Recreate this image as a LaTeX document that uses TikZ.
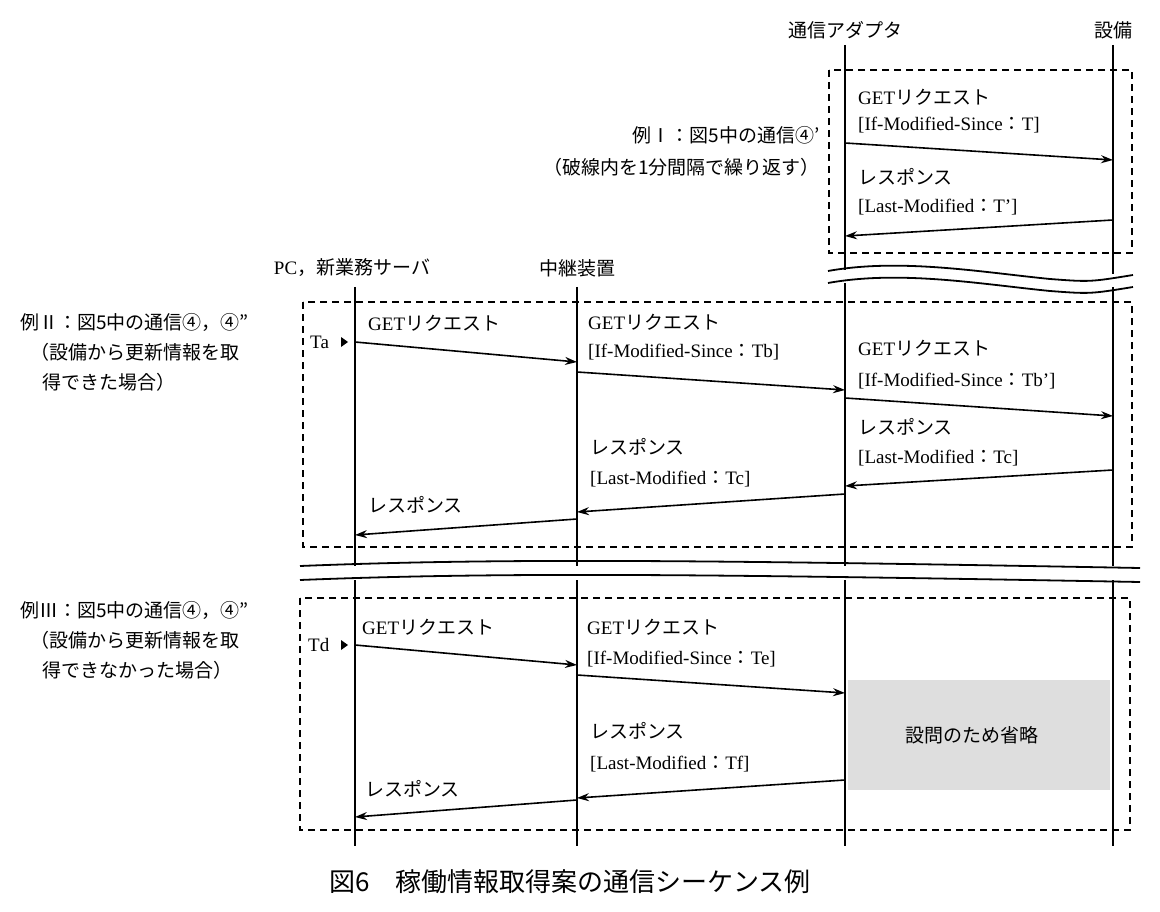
\documentclass[tikz,border=0pt]{standalone}
\usepackage{fontspec}
\setmainfont{Liberation Serif}
\newfontfamily\cjk{Noto Sans CJK JP}
\newcommand{\jp}[1]{{\cjk #1}}
\usetikzlibrary{arrows.meta}
\begin{document}
\begin{tikzpicture}[x=1pt,y=-1pt,
  lbl/.style={anchor=west,inner sep=0pt,font=\fontsize{19}{22}\selectfont},
  life/.style={line width=2.6pt},
  msg/.style={line width=1.6pt,-{Stealth[length=12pt,width=8pt]}},
  box/.style={dashed,line width=1.5pt,dash pattern=on 7pt off 5pt},
  brk/.style={line width=1.8pt}]
\useasboundingbox (0,0) rectangle (1160,912);
% headers
\node[lbl,anchor=center] (hA) at (845,30) {\jp{通信アダプタ}};
\node[lbl,anchor=center] (hE) at (1113,30) {\jp{設備}};
\node[lbl,anchor=center] (hP) at (352,268) {PC\jp{，新業務サーバ}};
\node[lbl,anchor=center] (hR) at (577,268) {\jp{中継装置}};
% lifelines
\draw[life] (845,45) -- (845,270) (845,283) -- (845,566) (845,580) -- (845,846);
\draw[life] (1113,45) -- (1113,274) (1113,287) -- (1113,566) (1113,580) -- (1113,846);
\draw[life] (355,287) -- (355,566) (355,580) -- (355,846);
\draw[life] (577,287) -- (577,566) (577,580) -- (577,846);
% breaks
\draw[brk] (828,271) .. controls (900,258) and (980,272) .. (1050,279) .. controls (1090,282) .. (1133,275);
\draw[brk] (828,283) .. controls (900,270) and (980,284) .. (1050,291) .. controls (1090,294) .. (1133,287);
\draw[brk] (300,566) .. controls (500,558) and (700,560) .. (1140,568);
\draw[brk] (300,580) .. controls (500,572) and (700,574) .. (1140,582);
% boxes
\draw[box] (829,70) rectangle (1132,253);
\draw[box] (303,302) rectangle (1132,547);
\draw[box] (300,598) rectangle (1130,830);
% grey
\fill[black!13] (848,680) rectangle (1110,790);
\node[lbl,anchor=center] (omit) at (972,735) {\jp{設問のため省略}};
% Example I
\node[lbl,anchor=east] (e1a) at (820,135) {\jp{例Ⅰ：図5中の通信④’}};
\node[lbl,anchor=east] (e1b) at (820,167) {\jp{（破線内を1分間隔で繰り返す）}};
\node[lbl] (l1) at (858,97) {GET\jp{リクエスト}};
\node[lbl] (l2) at (858,125) {[If-Modified-Since\jp{：}T]};
\node[lbl] (l3) at (858,177) {\jp{レスポンス}};
\node[lbl] (l4) at (858,207) {[Last-Modified\jp{：}T’]};
\coordinate (a1) at (845,143); \coordinate (b1) at (1113,160);
\coordinate (a2) at (1113,220); \coordinate (b2) at (845,236);
\draw[msg] (a1) -- (b1); \draw[msg] (a2) -- (b2);
% Example II
\node[lbl] (e2a) at (20,322) {\jp{例Ⅱ：図5中の通信④，④”}};
\node[lbl] (e2b) at (30,352) {\jp{（設備から更新情報を取}};
\node[lbl] (e2c) at (42,382) {\jp{得できた場合）}};
\node[lbl] (ta) at (310,342) {Ta};
\fill (341,337) -- (348,342) -- (341,347) -- cycle;
\node[lbl] (m1) at (368,323) {GET\jp{リクエスト}};
\node[lbl] (m2) at (588,322) {GET\jp{リクエスト}};
\node[lbl] (m3) at (588,352) {[If-Modified-Since\jp{：}Tb]};
\node[lbl] (m4) at (858,348) {GET\jp{リクエスト}};
\node[lbl] (m5) at (858,381) {[If-Modified-Since\jp{：}Tb’]};
\node[lbl] (m6) at (858,427) {\jp{レスポンス}};
\node[lbl] (m7) at (858,458) {[Last-Modified\jp{：}Tc]};
\node[lbl] (m8) at (590,447) {\jp{レスポンス}};
\node[lbl] (m9) at (590,479) {[Last-Modified\jp{：}Tc]};
\node[lbl] (m10) at (368,505) {\jp{レスポンス}};
\coordinate (p1) at (355,342); \coordinate (r1) at (577,362);
\coordinate (r2) at (577,372); \coordinate (ad1) at (845,390);
\coordinate (ad2) at (845,398); \coordinate (eq1) at (1113,416);
\coordinate (eq2) at (1113,470); \coordinate (ad3) at (845,486);
\coordinate (ad4) at (845,494); \coordinate (r3) at (577,512);
\coordinate (r4) at (577,519); \coordinate (p2) at (355,535);
\draw[msg] (p1) -- (r1); \draw[msg] (r2) -- (ad1); \draw[msg] (ad2) -- (eq1);
\draw[msg] (eq2) -- (ad3); \draw[msg] (ad4) -- (r3); \draw[msg] (r4) -- (p2);
% Example III
\node[lbl] (e3a) at (20,610) {\jp{例Ⅲ：図5中の通信④，④”}};
\node[lbl] (e3b) at (30,640) {\jp{（設備から更新情報を取}};
\node[lbl] (e3c) at (42,670) {\jp{得できなかった場合）}};
\node[lbl] (td) at (308,645) {Td};
\fill (341,640) -- (348,645) -- (341,650) -- cycle;
\node[lbl] (n1) at (362,627) {GET\jp{リクエスト}};
\node[lbl] (n2) at (587,627) {GET\jp{リクエスト}};
\node[lbl] (n3) at (587,659) {[If-Modified-Since\jp{：}Te]};
\node[lbl] (n4) at (590,731) {\jp{レスポンス}};
\node[lbl] (n5) at (590,764) {[Last-Modified\jp{：}Tf]};
\node[lbl] (n6) at (365,789) {\jp{レスポンス}};
\coordinate (q1) at (355,645); \coordinate (s1) at (577,665);
\coordinate (s2) at (577,675); \coordinate (c1) at (845,693);
\coordinate (c2) at (845,780); \coordinate (s3) at (577,798);
\coordinate (s4) at (577,800); \coordinate (q2) at (355,817);
\draw[msg] (q1) -- (s1); \draw[msg] (s2) -- (c1);
\draw[msg] (c2) -- (s3); \draw[msg] (s4) -- (q2);
% caption
\node[lbl,anchor=center,font=\fontsize{26}{30}\selectfont] (cap) at (570,882) {\jp{図6　稼働情報取得案の通信シーケンス例}};
\end{tikzpicture}
\end{document}
